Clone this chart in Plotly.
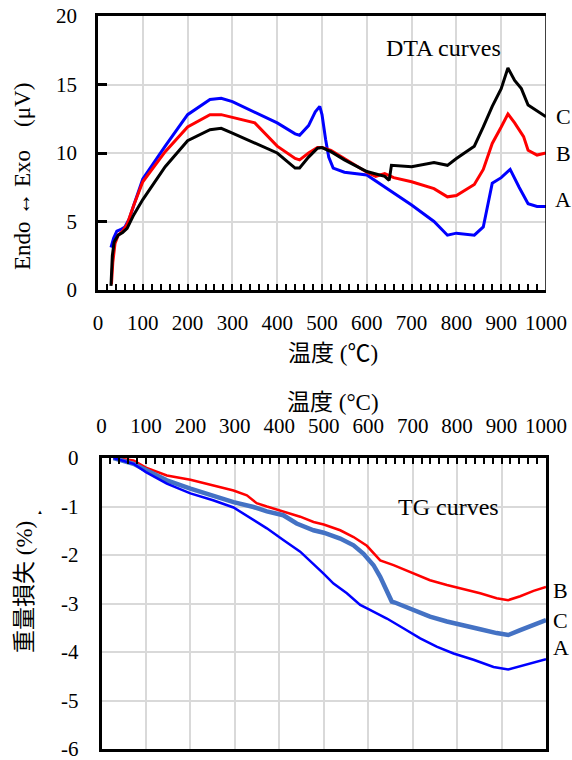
import plotly.graph_objects as go

# ---------------- DTA data ----------------
dta_a_x = [29, 35, 42, 50, 60, 70, 80, 100, 150, 200, 250, 275, 300, 350, 400, 440, 450, 470, 485, 495, 500, 508, 515, 525, 550, 600, 650, 700, 750, 780, 800, 840, 860, 880, 900, 920, 940, 960, 980, 1000]
dta_a_y = [3.1, 3.8, 4.3, 4.4, 4.6, 5.2, 6.2, 8.1, 10.5, 12.8, 13.9, 14.0, 13.75, 13.0, 12.2, 11.4, 11.3, 12.0, 13.0, 13.4, 12.8, 11.0, 9.7, 8.9, 8.6, 8.4, 7.3, 6.2, 5.0, 4.0, 4.15, 4.0, 4.6, 7.8, 8.2, 8.8, 7.5, 6.3, 6.1, 6.1]

dta_b_x = [30, 33, 38, 45, 55, 65, 80, 100, 150, 200, 250, 275, 300, 350, 400, 440, 450, 470, 490, 500, 520, 550, 600, 620, 640, 660, 700, 750, 780, 800, 840, 860, 880, 900, 915, 930, 950, 960, 980, 1000]
dta_b_y = [0.4, 2.0, 3.4, 4.0, 4.3, 4.8, 6.2, 7.9, 10.1, 11.9, 12.8, 12.8, 12.6, 12.2, 10.5, 9.6, 9.5, 10.0, 10.4, 10.4, 10.2, 9.6, 8.6, 8.3, 8.5, 8.2, 7.9, 7.4, 6.8, 6.9, 7.7, 8.8, 10.7, 11.9, 12.85, 12.2, 11.2, 10.2, 9.85, 10.0]

dta_c_x = [29, 32, 36, 45, 55, 65, 80, 100, 150, 200, 250, 275, 300, 350, 400, 440, 450, 470, 490, 500, 520, 550, 600, 640, 650, 655, 700, 750, 780, 800, 840, 860, 880, 900, 915, 930, 945, 960, 980, 1000]
dta_c_y = [0.3, 2.5, 3.5, 4.0, 4.2, 4.5, 5.5, 6.6, 9.0, 10.9, 11.7, 11.8, 11.45, 10.7, 10.0, 8.9, 8.9, 9.7, 10.35, 10.4, 10.1, 9.5, 8.65, 8.3, 8.0, 9.1, 9.0, 9.3, 9.1, 9.6, 10.5, 11.9, 13.4, 14.7, 16.2, 15.3, 14.7, 13.5, 13.1, 12.65]

# ---------------- TG data ----------------
tg_a_x = [27, 72, 100, 147, 200, 251, 297, 342, 372, 409, 447, 499, 522, 552, 582, 604, 642, 679, 717, 754, 792, 837, 882, 915, 927, 964, 1000]
tg_a_y = [0, -0.12, -0.29, -0.53, -0.73, -0.87, -1.02, -1.28, -1.45, -1.69, -1.93, -2.38, -2.59, -2.79, -3.03, -3.13, -3.31, -3.51, -3.72, -3.89, -4.03, -4.16, -4.31, -4.36, -4.33, -4.25, -4.15]

tg_b_x = [27, 72, 100, 147, 200, 251, 297, 327, 349, 372, 409, 447, 477, 500, 537, 567, 597, 612, 627, 657, 702, 739, 777, 814, 852, 889, 915, 942, 972, 1000]
tg_b_y = [0, -0.05, -0.2, -0.36, -0.45, -0.56, -0.67, -0.77, -0.93, -1.0, -1.11, -1.21, -1.32, -1.37, -1.49, -1.63, -1.81, -1.97, -2.11, -2.21, -2.38, -2.52, -2.62, -2.70, -2.79, -2.89, -2.93, -2.85, -2.74, -2.66]

tg_c_x = [27, 72, 100, 147, 200, 251, 297, 342, 372, 409, 439, 477, 500, 537, 567, 589, 612, 627, 642, 653, 660, 702, 739, 777, 814, 852, 889, 915, 942, 972, 1000]
tg_c_y = [0, -0.12, -0.25, -0.46, -0.63, -0.78, -0.91, -1.01, -1.10, -1.18, -1.35, -1.49, -1.54, -1.66, -1.80, -1.97, -2.21, -2.45, -2.72, -2.96, -2.98, -3.13, -3.27, -3.37, -3.44, -3.53, -3.61, -3.65, -3.55, -3.43, -3.34]

x_ticks = list(range(0, 1001, 100))
x_tick_text = [str(v) for v in x_ticks]
dta_y_ticks = [0, 5, 10, 15, 20]
dta_y_text = ["0", "5", "10", "15", "20"]
tg_y_ticks = [0, -1, -2, -3, -4, -5, -6]
tg_y_text = ["0", "-1", "-2", "-3", "-4", "-5", "-6"]

FONT = "Liberation Serif, Times New Roman, Noto Sans CJK JP, serif"
W, H = 572, 760

fig = go.Figure()

fig.add_trace(go.Scatter(x=dta_a_x, y=dta_a_y, mode="lines", line=dict(color="#0000FF", width=3), xaxis="x", yaxis="y", showlegend=False))
fig.add_trace(go.Scatter(x=dta_b_x, y=dta_b_y, mode="lines", line=dict(color="#FF0000", width=3), xaxis="x", yaxis="y", showlegend=False))
fig.add_trace(go.Scatter(x=dta_c_x, y=dta_c_y, mode="lines", line=dict(color="#000000", width=3), xaxis="x", yaxis="y", showlegend=False))

fig.add_trace(go.Scatter(x=tg_b_x, y=tg_b_y, mode="lines", line=dict(color="#FF0000", width=2.5), xaxis="x2", yaxis="y2", showlegend=False))
fig.add_trace(go.Scatter(x=tg_c_x, y=tg_c_y, mode="lines", line=dict(color="#4472C4", width=4.5), xaxis="x2", yaxis="y2", showlegend=False))
fig.add_trace(go.Scatter(x=tg_a_x, y=tg_a_y, mode="lines", line=dict(color="#0000FF", width=2.5), xaxis="x2", yaxis="y2", showlegend=False))

def px_x(p):
    return p / W

def px_y(p):
    return 1 - p / H

def axis_common(mirror=True):
    return dict(
        showline=True, linecolor="black", linewidth=2.7, mirror=mirror,
        showgrid=True, gridcolor="#d9d9d9", gridwidth=1.5,
        zeroline=False, automargin=False, ticklabeloverflow="allow",
        tickfont=dict(family=FONT, size=21, color="black"),
    )

fig.update_layout(
    template="none",
    width=W, height=H,
    margin=dict(l=0, r=0, t=0, b=0, pad=0),
    paper_bgcolor="white", plot_bgcolor="white",
    font=dict(family=FONT, color="black"),
    xaxis=dict(domain=[px_x(98), px_x(546)], anchor="y", range=[0, 1000],
               tickvals=x_ticks, ticktext=x_tick_text, ticks="inside", ticklen=6, tickwidth=2, tickcolor="black",
               ticklabelstandoff=12,
               minor=dict(dtick=20, ticks="inside", ticklen=6, tickwidth=2, tickcolor="black", showgrid=False),
               **axis_common(True)),
    yaxis=dict(domain=[px_y(290), px_y(16)], anchor="x", range=[0, 20],
               tickvals=dta_y_ticks, ticktext=dta_y_text, ticks="inside", ticklen=9, tickwidth=2.5, tickcolor="black",
               ticklabelstandoff=14,
               **axis_common(False)),
    xaxis2=dict(domain=[px_x(101.5), px_x(546)], anchor="y2", range=[0, 1000], side="top",
                tickvals=x_ticks, ticktext=x_tick_text, ticks="inside", ticklen=6, tickwidth=2, tickcolor="black",
                ticklabelstandoff=14,
                minor=dict(dtick=20, ticks="inside", ticklen=6, tickwidth=2, tickcolor="black", showgrid=False),
                **axis_common(True)),
    yaxis2=dict(domain=[px_y(749), px_y(458)], anchor="x2", range=[-6, 0],
                tickvals=tg_y_ticks, ticktext=tg_y_text, ticks="",
                ticklabelstandoff=16,
                **axis_common(True)),
)

# thin right border of the DTA frame
fig.add_shape(type="line", xref="x", yref="paper", x0=1000, x1=1000, y0=px_y(290), y1=px_y(16),
              line=dict(color="black", width=1.5))

ann = []
def text(x, y, s, size=22, angle=0, xanchor="center"):
    ann.append(dict(x=px_x(x), y=px_y(y), xref="paper", yref="paper", text=s, showarrow=False,
                    font=dict(family=FONT, size=size, color="black"), textangle=angle,
                    xanchor=xanchor, yanchor="middle"))

text(443, 48, "DTA curves", 24)
text(554, 117, "C", 22, xanchor="left")
text(554, 153, "B", 22, xanchor="left")
text(553, 200, "A", 22, xanchor="left")
text(333, 353, "温度 (℃)", 23)
text(22, 177, "Endo ↔ Exo　(μV)", 23, angle=-90)

text(448, 507, "TG curves", 24)
text(551, 590, "B", 22, xanchor="left")
text(551, 620, "C", 22, xanchor="left")
text(551, 647, "A", 22, xanchor="left")
text(333, 402, "温度 (°C)", 23)
text(24, 587, "重量損失 (%)", 23, angle=-90)
text(40, 512, "▲", 6)

fig.update_layout(annotations=ann)
fig.write_html("out.html", config={"displayModeBar": False},
               post_script="document.body.style.margin='0px';document.body.style.padding='0px';")
